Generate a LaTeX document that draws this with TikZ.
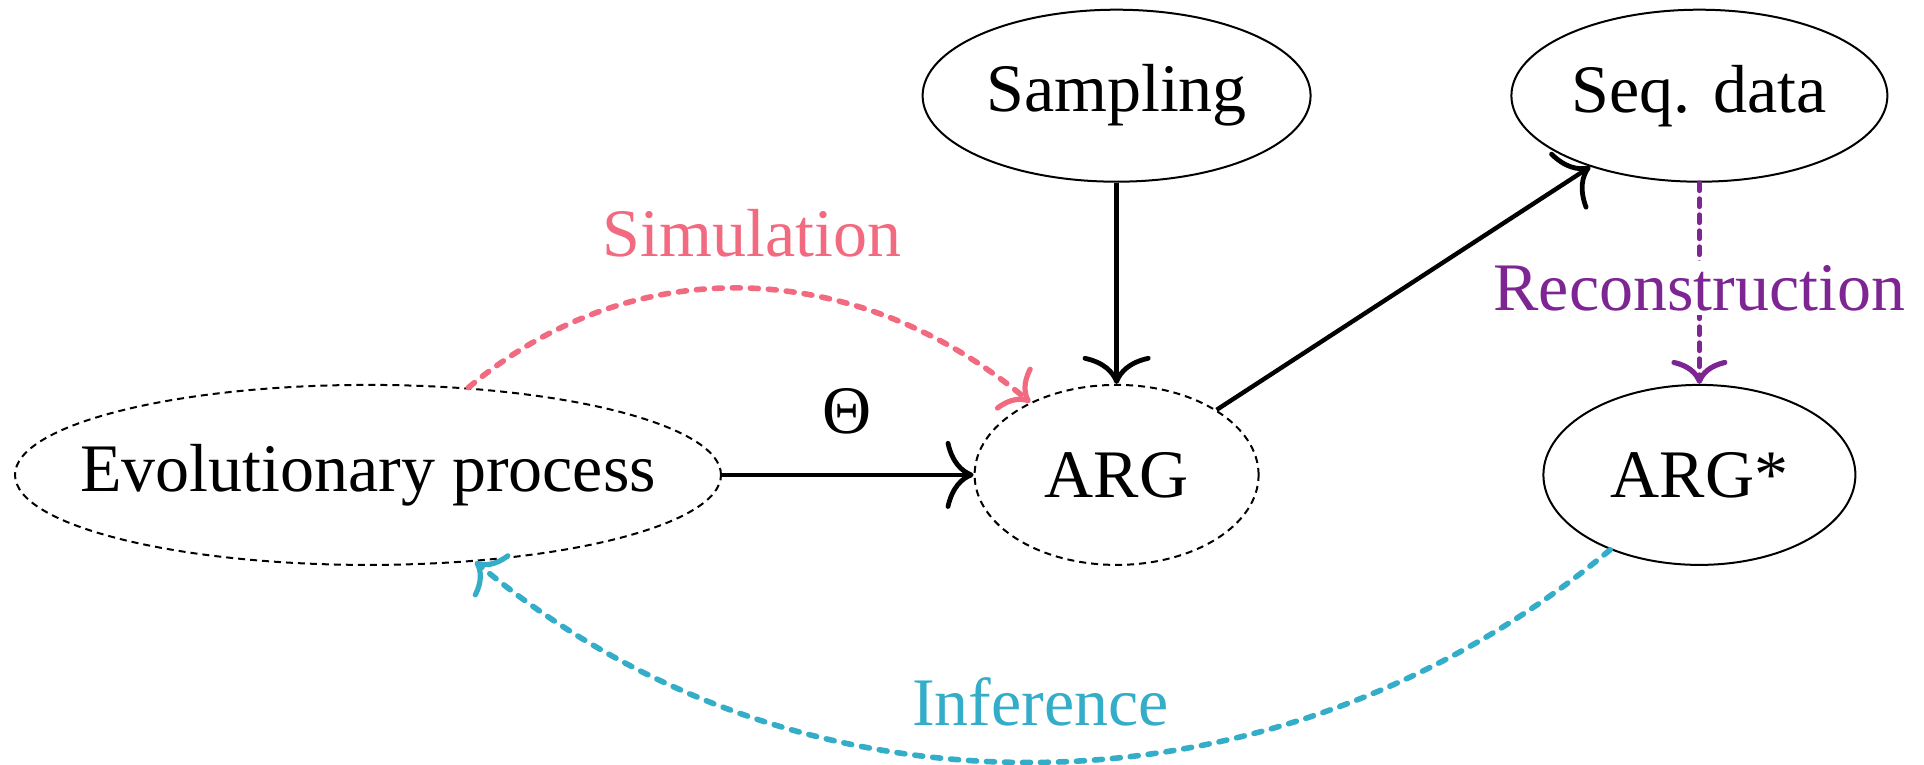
\documentclass[tikz,border=0pt]{standalone}
\usepackage{fontspec}
\setmainfont{Liberation Serif}
\usetikzlibrary{shapes.geometric,arrows.meta}
\definecolor{simc}{RGB}{242,106,128}
\definecolor{recc}{RGB}{126,37,148}
\definecolor{infc}{RGB}{52,173,200}
\begin{document}
\begin{tikzpicture}[x=0.5pt,y=-0.5pt,
  ell/.style={ellipse, draw, line width=1pt, inner sep=0pt, font=\fontsize{34}{40}\selectfont},
  dell/.style={ell, dash pattern=on 3.5pt off 2.5pt},
  mainarrow/.style={-{Computer Modern Rightarrow[length=14pt,width=34pt,line width=2.4pt,line cap=round]}, line width=2.2pt},
  lab/.style={font=\fontsize{34}{40}\selectfont, inner sep=2pt},
  cdash/.style={-{Computer Modern Rightarrow[length=12pt,width=28pt,line width=2.6pt,line cap=round]}, line width=2.8pt, line cap=round, dash pattern=on 4pt off 5pt}
]
\useasboundingbox (0,0) rectangle (1924,765);
\node[ell, minimum width=194pt, minimum height=86pt] (sam) at (1116.6,95.7) {\makebox[0pt]{Sampling}};
\node[ell, minimum width=188pt, minimum height=86pt] (seq) at (1699.4,95.7) {\makebox[0pt]{Seq. data}};
\node[dell, minimum width=353pt, minimum height=90pt] (evo) at (368,474.9) {\makebox[0pt]{Evolutionary process}};
\node[dell, minimum width=142pt, minimum height=90pt] (arg) at (1116.6,474.9) {\makebox[0pt]{ARG}};
\node[ell, minimum width=156pt, minimum height=90pt] (args) at (1699.4,474.9) {\makebox[0pt]{ARG*}};

\draw[mainarrow] (sam) -- (arg);
\draw[mainarrow] (arg) -- (seq);
\draw[mainarrow] (evo) -- (arg);
\node[lab] (theta) at (846.6,411) {Θ};

\draw[cdash, simc] (evo.41) .. controls +(169,-142) and +(-169,-142) .. (arg.140);
\node[lab, text=simc] (simlab) at (752,233) {Simulation};

\draw[cdash, infc] (args.220) .. controls +(-330,275) and +(330,275) .. (evo.321);
\node[lab, text=infc] (inflab) at (1040.5,702) {Inference};

\draw[cdash, recc, line width=2.4pt, dash pattern=on 4pt off 4pt] (seq) -- (args);
\node[lab, text=recc, fill=white] (reclab) at (1699.4,288.3) {Reconstruction};
\end{tikzpicture}
\end{document}
